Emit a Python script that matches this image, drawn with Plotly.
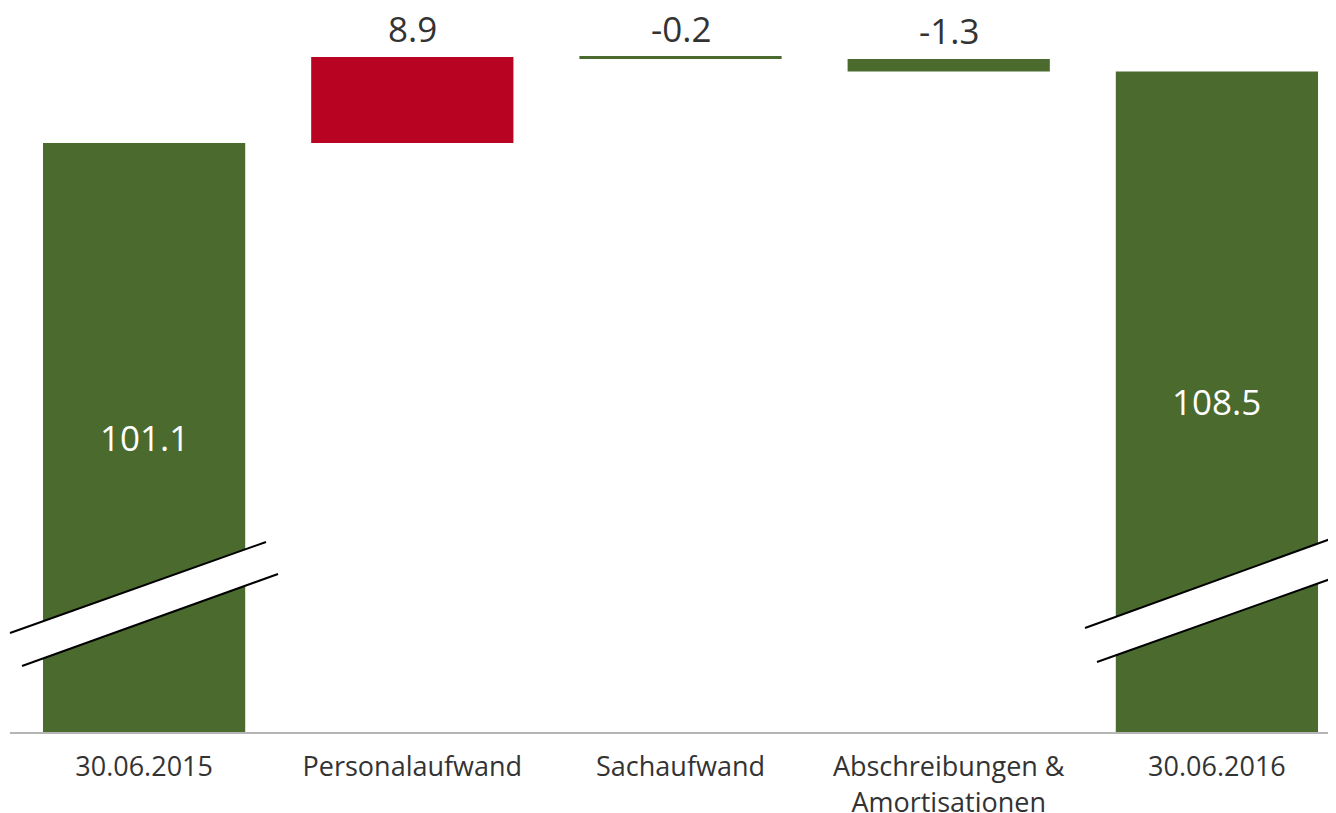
import plotly.graph_objects as go

categories = ["30.06.2015", "Personalaufwand", "Sachaufwand", "Abschreibungen &<br>Amortisationen", "30.06.2016"]
measures = ["absolute", "relative", "relative", "relative", "total"]
values = [101.1, 8.9, -0.2, -1.3, 108.5]
labels = ["101.1", "8.9", "-0.2", "-1.3", "108.5"]

GREEN = "#4a6a2e"
RED = "#b80422"
TEXT = "#333333"
Y_MIN, Y_MAX = 40.15, 115.07

fig = go.Figure(go.Waterfall(
    x=categories,
    y=values,
    measure=measures,
    increasing=dict(marker=dict(color=RED)),
    decreasing=dict(marker=dict(color=GREEN)),
    totals=dict(marker=dict(color=GREEN)),
    connector=dict(visible=False),
    hoverinfo="skip",
))

# compute bar extents from the data
annotations = []
running = 0.0
for cat, m, v, lab in zip(categories, measures, values, labels):
    if m == "absolute":
        base, top = 0.0, v
        running = v
    elif m == "total":
        base, top = 0.0, running
    else:
        base, top = running, running + v
        running = running + v
    if m in ("absolute", "total"):
        annotations.append(dict(x=cat, y=(Y_MIN + top) / 2, text=lab, showarrow=False,
                                font=dict(family="Open Sans", size=35, color="white"),
                                xref="x", yref="y"))
    else:
        annotations.append(dict(x=cat, y=max(base, top), text=lab, showarrow=False,
                                yanchor="bottom", yshift=4, borderpad=0,
                                font=dict(family="Open Sans", size=35, color=TEXT),
                                xref="x", yref="y"))

def seg(x0, y0, x1, y1):
    return dict(type="line", xref="paper", yref="paper", x0=x0, y0=y0, x1=x1, y1=y1,
                line=dict(color="black", width=2), layer="above")

def band(a, b, c, d):
    path = "M {} {} L {} {} L {} {} L {} {} Z".format(a[0], a[1], b[0], b[1], c[0], c[1], d[0], d[1])
    return dict(type="path", xref="paper", yref="paper", path=path,
                fillcolor="white", line=dict(width=0), layer="above")

# break marks (paper coords of a 1326x724 plot area)
def P(px, py):
    return ((px - 10) / 1326.0, (732 - py) / 724.0)

L1a, L1b, L2a, L2b = P(10, 633), P(266, 542), P(22, 666), P(278, 574)
R1a, R1b, R2a, R2b = P(1085, 628), P(1336, 537), P(1097, 662), P(1336, 577)

shapes = [
    band(L1a, L1b, L2b, L2a),
    seg(*L1a, *L1b),
    seg(*L2a, *L2b),
    band(R1a, R1b, R2b, R2a),
    seg(*R1a, *R1b),
    seg(*R2a, *R2b),
]

fig.update_layout(
    width=1328, height=805,
    margin=dict(l=2, r=0, t=0, b=81, autoexpand=False),
    paper_bgcolor="white", plot_bgcolor="white",
    showlegend=False,
    waterfallgap=0.246,
    font=dict(family="Open Sans", color=TEXT),
    xaxis=dict(range=[-0.5, 4.444], showgrid=False, zeroline=False,
               showline=True, linecolor="#b5b5b5", linewidth=2,
               ticks="", tickfont=dict(family="Open Sans", size=27, color=TEXT),
               ticklabelstandoff=10, automargin=False),
    yaxis=dict(range=[Y_MIN, Y_MAX], showgrid=False, zeroline=False,
               showticklabels=False, showline=False, ticks=""),
    annotations=annotations,
    shapes=shapes,
)

fig.write_html("out.html")
